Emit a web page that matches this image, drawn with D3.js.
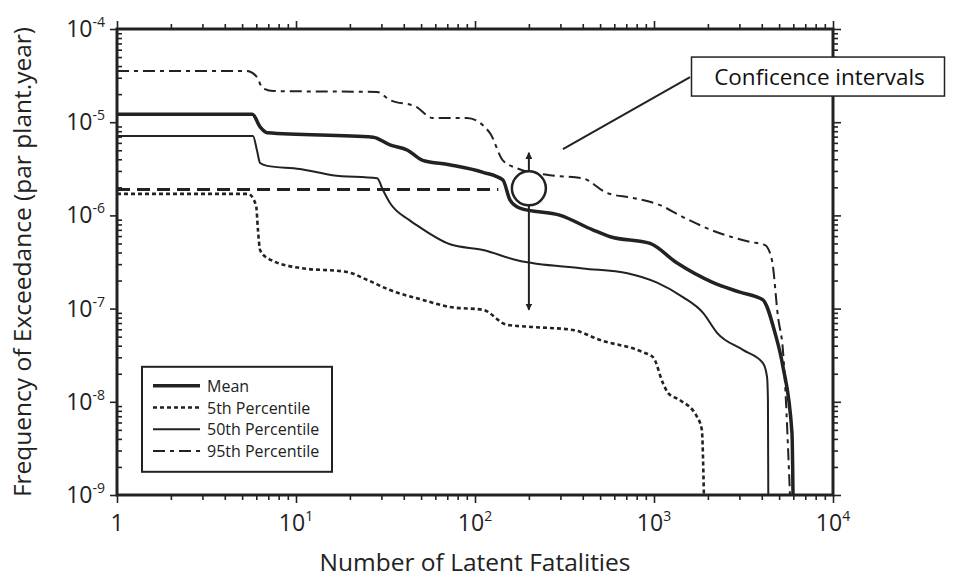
<!DOCTYPE html>
<html>
<head>
<meta charset="utf-8">
<script src="https://cdn.jsdelivr.net/npm/d3@7"></script>
<style>
  body { margin: 0; background: #fff; }
  svg { font-family: "Open Sans", sans-serif; }
</style>
</head>
<body>
<div id="chart"></div>
<script>
// Data: N = number of latent fatalities, F = frequency of exceedance
var meanN = [1, 5.7, 6.3, 6.9, 27, 33.5, 42, 51, 72, 111, 143, 157, 178, 300, 455, 570, 950, 1340, 2140, 3020, 4060, 4740, 5250, 5900, 5980]
var meanF = [1.22e-5, 1.22e-5, 8.9e-6, 7.7e-6, 6.9e-6, 5.7e-6, 5.0e-6, 3.9e-6, 3.5e-6, 2.9e-6, 2.4e-6, 1.46e-6, 1.2e-6, 1.0e-6, 7.0e-7, 5.9e-7, 5.0e-7, 3.1e-7, 1.9e-7, 1.5e-7, 1.24e-7, 5.5e-8, 2.4e-8, 4.6e-9, 1e-9]

var p5N = [1, 5.4, 5.98, 6.13, 6.3, 6.9, 10.5, 19.3, 25, 33.5, 51, 72.5, 111, 151, 211, 352, 500, 870, 990, 1120, 1200, 1400, 1740, 1850, 1900]
var p5F = [1.7e-6, 1.7e-6, 1.29e-6, 7.0e-7, 4.25e-7, 3.5e-7, 2.73e-7, 2.47e-7, 2.03e-7, 1.58e-7, 1.24e-7, 1.04e-7, 9.7e-8, 6.7e-8, 6.35e-8, 5.9e-8, 4.6e-8, 3.4e-8, 3.0e-8, 1.6e-8, 1.24e-8, 1.04e-8, 6.9e-9, 5.0e-9, 1e-9]

var p50N = [1, 5.75, 6.05, 6.3, 6.9, 10.5, 16, 28.4, 30.6, 33.5, 43, 47, 72.5, 111, 172, 400, 710, 1040, 1450, 1880, 2250, 3140, 4060, 4280, 4330, 4350]
var p50F = [7.1e-6, 7.1e-6, 5.0e-6, 3.65e-6, 3.4e-6, 3.15e-6, 2.7e-6, 2.5e-6, 1.87e-6, 1.36e-6, 8.9e-7, 7.9e-7, 4.9e-7, 4.25e-7, 3.3e-7, 2.7e-7, 2.4e-7, 1.9e-7, 1.33e-7, 9.0e-8, 5.5e-8, 3.6e-8, 2.6e-8, 1.85e-8, 1.05e-8, 1e-9]

var p95N = [1, 5.3, 6.05, 6.5, 7.5, 28.4, 33.5, 47, 58, 90, 121, 143, 172, 262, 400, 546, 763, 1080, 1450, 2250, 3440, 4170, 4560, 4930, 5250, 5750]
var p95F = [3.54e-5, 3.54e-5, 3.05e-5, 2.33e-5, 2.16e-5, 2.11e-5, 1.73e-5, 1.46e-5, 1.11e-5, 1.11e-5, 7.7e-6, 3.9e-6, 3.2e-6, 2.7e-6, 2.5e-6, 1.74e-6, 1.54e-6, 1.29e-6, 9.6e-7, 6.6e-7, 5.2e-7, 4.8e-7, 3.3e-7, 8.1e-8, 3.6e-8, 1e-9]

// reference level and confidence-interval marker
var refN = [1, 135]
var refF = 1.9e-6
var ciN = 200
var ciF = 1.95e-6
var ciHigh = 4.7e-6
var ciLow = 9.7e-8

var xTickExp = [0, 1, 2, 3, 4]
var yTickExp = [-4, -5, -6, -7, -8, -9]

var seriesNames = ['Mean', '5th Percentile', '50th Percentile', '95th Percentile']
var calloutText = 'Conficence intervals'

var width = 970, height = 577
var margin = {top: 29, right: 137, bottom: 82, left: 117}
var ink = '#222'

var svg = d3.select('#chart').append('svg')
  .attr('width', width)
  .attr('height', height)

var x = d3.scaleLog()
  .domain([1, 1e4])
  .range([margin.left, width - margin.right])

var y = d3.scaleLog()
  .domain([1e-9, 1e-4])
  .range([height - margin.bottom, margin.top])

var x0 = x.range()[0], x1 = x.range()[1]
var y0 = y.range()[0], y1 = y.range()[1]

// minor ticks 2..9 per decade
var minorX = [], minorY = []
d3.range(0, 4).forEach(function(e){
  d3.range(2, 10).forEach(function(m){ minorX.push(m * Math.pow(10, e)) })
})
d3.range(-9, -4).forEach(function(e){
  d3.range(2, 10).forEach(function(m){ minorY.push(m * Math.pow(10, e)) })
})
var majorX = xTickExp.map(function(e){ return Math.pow(10, e) })
var majorY = yTickExp.map(function(e){ return Math.pow(10, e) })

function tickAxis(axis, pos, values, size) {
  var g = svg.append('g')
    .attr('transform', pos)
    .call(axis.tickValues(values).tickSize(size).tickFormat(''))
  g.select('.domain').remove()
  g.selectAll('line').attr('stroke', ink).attr('stroke-width', 1.6)
  return g
}

tickAxis(d3.axisBottom(x), 'translate(0,' + y0 + ')', minorX, 5)
tickAxis(d3.axisBottom(x), 'translate(0,' + y0 + ')', majorX, 8)
tickAxis(d3.axisTop(x), 'translate(0,' + y1 + ')', minorX, 5)
tickAxis(d3.axisTop(x), 'translate(0,' + y1 + ')', majorX, 8)
tickAxis(d3.axisLeft(y), 'translate(' + x0 + ',0)', minorY, -5)
tickAxis(d3.axisLeft(y), 'translate(' + x0 + ',0)', majorY, 7)
tickAxis(d3.axisRight(y), 'translate(' + x1 + ',0)', minorY, 5)
tickAxis(d3.axisRight(y), 'translate(' + x1 + ',0)', majorY, 8)

// tick labels
var xl = svg.append('g').selectAll('text')
  .data(xTickExp)
  .enter().append('text')
    .attr('x', function(d){ return x(Math.pow(10, d)) })
    .attr('y', y0 + 36)
    .attr('text-anchor', 'middle')
    .style('font-size', '23px')
    .style('fill', ink)
xl.append('tspan').text(function(d){ return d === 0 ? '1' : '10' })
xl.filter(function(d){ return d !== 0 }).append('tspan')
  .attr('dy', -10)
  .style('font-size', '14px')
  .text(function(d){ return d })

var yl = svg.append('g').selectAll('text')
  .data(yTickExp)
  .enter().append('text')
    .attr('x', x0 - 12)
    .attr('y', function(d){ return y(Math.pow(10, d)) + 8 })
    .attr('text-anchor', 'end')
    .style('font-size', '23px')
    .style('fill', ink)
yl.append('tspan').text('10')
yl.append('tspan')
  .attr('dy', -10)
  .style('font-size', '14px')
  .text(function(d){ return '-' + Math.abs(d) })

// axis titles
svg.append('text')
  .attr('x', (x0 + x1) / 2)
  .attr('y', height - 6)
  .attr('text-anchor', 'middle')
  .style('font-size', '24.5px')
  .style('fill', ink)
  .text('Number of Latent Fatalities')

svg.append('text')
  .attr('transform', 'translate(31,' + ((y0 + y1) / 2) + ') rotate(-90)')
  .attr('text-anchor', 'middle')
  .style('font-size', '24.5px')
  .style('fill', ink)
  .text('Frequency of Exceedance (par plant.year)')

// curves
var series = [
  {name: seriesNames[0], n: meanN, f: meanF, width: 3.5, dash: null},
  {name: seriesNames[1], n: p5N, f: p5F, width: 2.6, dash: '4,3'},
  {name: seriesNames[2], n: p50N, f: p50F, width: 2, dash: null},
  {name: seriesNames[3], n: p95N, f: p95F, width: 2, dash: '12,5,4,5'}
]

var line = d3.line()
  .curve(d3.curveMonotoneX)
  .x(function(d){ return x(d[0]) })
  .y(function(d){ return y(d[1]) })

svg.append('g').selectAll('path')
  .data(series)
  .enter().append('path')
    .attr('d', function(s){ return line(s.n.map(function(n, i){ return [n, s.f[i]] })) })
    .style('fill', 'none')
    .style('stroke', ink)
    .style('stroke-width', function(s){ return s.width })
    .style('stroke-dasharray', function(s){ return s.dash })
    .style('stroke-linejoin', 'round')

// reference level
svg.append('line')
  .attr('x1', x(refN[0])).attr('x2', x(refN[1]))
  .attr('y1', y(refF)).attr('y2', y(refF))
  .style('stroke', ink)
  .style('stroke-width', 3)
  .style('stroke-dasharray', '13,7')

// confidence interval marker
svg.append('defs').append('marker')
  .attr('id', 'arrow')
  .attr('viewBox', '0 0 10 10')
  .attr('refX', 9).attr('refY', 5)
  .attr('markerWidth', 7).attr('markerHeight', 7)
  .attr('markerUnits', 'userSpaceOnUse')
  .attr('orient', 'auto')
  .append('path')
    .attr('d', 'M0,0L10,5L0,10z')
    .style('fill', ink)

var r = 17
svg.append('line')
  .attr('x1', x(ciN)).attr('x2', x(ciN))
  .attr('y1', y(ciF) - r).attr('y2', y(ciHigh))
  .style('stroke', ink).style('stroke-width', 2)
  .attr('marker-end', 'url(#arrow)')
svg.append('line')
  .attr('x1', x(ciN)).attr('x2', x(ciN))
  .attr('y1', y(ciF) + r).attr('y2', y(ciLow))
  .style('stroke', ink).style('stroke-width', 2)
  .attr('marker-end', 'url(#arrow)')
svg.append('circle')
  .attr('cx', x(ciN)).attr('cy', y(ciF))
  .attr('r', r)
  .style('fill', '#fff')
  .style('stroke', ink)
  .style('stroke-width', 2.5)

// frame
svg.append('rect')
  .attr('x', x0).attr('y', y1)
  .attr('width', x1 - x0).attr('height', y0 - y1)
  .style('fill', 'none')
  .style('stroke', ink)
  .style('stroke-width', 3)

// callout
svg.append('line')
  .attr('x1', x(310)).attr('y1', y(5.15e-6))
  .attr('x2', x(1590)).attr('y2', y(3.05e-5))
  .style('stroke', ink).style('stroke-width', 2)

var cb = svg.append('g')
  .attr('transform', 'translate(' + x(1620) + ',' + y(5.0e-5) + ')')
cb.append('rect')
  .attr('width', 253).attr('height', 39)
  .style('fill', '#fff')
  .style('stroke', ink)
  .style('stroke-width', 1.5)
cb.append('text')
  .attr('x', 128).attr('y', 28)
  .attr('text-anchor', 'middle')
  .style('font-size', '22.5px')
  .style('fill', '#111')
  .text(calloutText)

// legend
var lg = svg.append('g')
  .attr('transform', 'translate(' + (x0 + 25) + ',' + (y(1e-8) - 35) + ')')
lg.append('rect')
  .attr('width', 190).attr('height', 105)
  .style('fill', '#fff')
  .style('stroke', ink)
  .style('stroke-width', 2)
var li = lg.selectAll('.item')
  .data(series)
  .enter().append('g')
    .attr('class', 'item')
    .attr('transform', function(d, i){ return 'translate(0,' + (19 + i * 21.7) + ')' })
li.append('line')
  .attr('x1', 11).attr('x2', 58)
  .style('stroke', ink)
  .style('stroke-width', function(s){ return s.width })
  .style('stroke-dasharray', function(s){ return s.dash })
li.append('text')
  .attr('x', 65).attr('y', 6)
  .style('font-size', '16px')
  .style('fill', ink)
  .text(function(s){ return s.name })
</script>
</body>
</html>
